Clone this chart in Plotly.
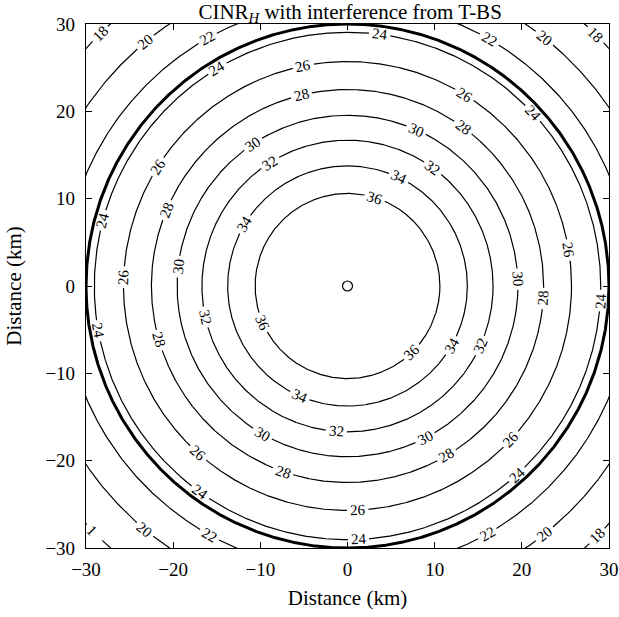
import numpy as np
import plotly.graph_objects as go

# Contour levels (dB) and their radii (km)
levels = [36, 34, 32, 30, 28, 26, 24, 22, 20, 18]
radii = [10.6, 13.75, 16.7, 19.55, 22.5, 25.7, 29.05, 32.6, 36.3, 40.5]
cell_radius = 30.0
tick_vals = [-30, -20, -10, 0, 10, 20, 30]

# contour label placement: (level, angle in degrees around the centre)
label_pos = [
    (18, 134.5), (20, 129.7), (22, 119.5), (24, 120.9), (26, 101.4), (28, 103.6),
    (30, 123.7), (32, 122.2), (26, 147.9), (28, 157.2), (34, 149.1), (24, 165.0),
    (26, 177.8), (30, 173.5),
    (24, 82.7), (22, 60.1), (20, 51.5), (18, 45.3), (26, 58.5), (24, 42.9),
    (28, 53.9), (30, 66.2), (32, 54.1), (34, 64.7), (36, 72.8), (26, 9.3), (30, 2.3),
    (32, 192.3), (36, 203.3), (24, 190.2), (28, 196.0), (34, 246.4), (32, 265.6),
    (30, 240.0), (26, 228.1), (28, 250.8), (24, 234.4), (20, 230.2), (22, 240.9),
    (28, -3.6), (24, -3.3), (36, -45.7), (34, -29.8), (32, -24.2), (30, -62.9),
    (28, -59.6), (26, -43.1), (24, -48.0), (26, -87.4), (24, -87.5), (22, -60.5),
    (20, -51.5), (18, -45.0),
]
clipped_label = (18, 224.2)   # only the "1" is visible inside the frame

PX_PER_KM = 8.72
GAP_PX = 21.0

fig = go.Figure()
th_deg = np.linspace(0, 360, 2881)
th = np.radians(th_deg)
for lev, r in zip(levels, radii):
    ang = [a % 360 for (l, a) in label_pos if l == lev]
    if lev == clipped_label[0]:
        ang.append(clipped_label[1] % 360)
    half = np.degrees(GAP_PX / 2 / (r * PX_PER_KM))
    mask = np.zeros_like(th_deg, dtype=bool)
    for a in ang:
        d = np.abs((th_deg - a + 180) % 360 - 180)
        mask |= d < half
    xs = r * np.cos(th)
    ys = r * np.sin(th)
    xs = np.where(mask, np.nan, xs)
    ys = np.where(mask, np.nan, ys)
    fig.add_trace(go.Scatter(x=xs, y=ys, mode="lines", connectgaps=False,
                             line=dict(color="black", width=1.2),
                             showlegend=False, hoverinfo="skip"))

fig.add_trace(go.Scatter(x=cell_radius * np.cos(th), y=cell_radius * np.sin(th),
                         mode="lines", line=dict(color="black", width=3),
                         showlegend=False, hoverinfo="skip"))
fig.add_trace(go.Scatter(x=[0], y=[0], mode="markers",
                         marker=dict(symbol="circle-open", size=10, color="black",
                                     line=dict(width=1.2)),
                         showlegend=False, hoverinfo="skip"))

rmap = dict(zip(levels, radii))


def text_angle(a):
    t = -(a + 90.0)
    t = (t + 180.0) % 360.0 - 180.0
    if t > 90:
        t -= 180
    elif t <= -90:
        t += 180
    return t


annotations = []
for lev, a in label_pos:
    r = rmap[lev]
    annotations.append(dict(
        x=r * np.cos(np.radians(a)), y=r * np.sin(np.radians(a)),
        xref="x", yref="y", text=str(lev), showarrow=False,
        textangle=text_angle(a), xanchor="center", yanchor="middle",
        font=dict(family="Liberation Serif", size=15, color="black")))
lev, a = clipped_label
r = rmap[lev]
annotations.append(dict(
    x=r * np.cos(np.radians(a)), y=r * np.sin(np.radians(a)),
    xref="x", yref="y", text="1", showarrow=False, xshift=-2, yshift=2,
    textangle=text_angle(a), xanchor="center", yanchor="middle",
    font=dict(family="Liberation Serif", size=15, color="black")))

axis_common = dict(range=[-30, 30], tickvals=tick_vals, ticks="inside", ticklen=6,
                   mirror="ticks", showline=True, linecolor="black", linewidth=1.2,
                   tickcolor="black", showgrid=False, zeroline=False, automargin=False,
                   tickfont=dict(family="Liberation Serif", size=19, color="black"),
                   title_font=dict(family="Liberation Serif", size=21, color="black"))

fig.update_layout(
    width=619, height=617,
    margin=dict(l=86, r=10, t=24, b=69),
    plot_bgcolor="white", paper_bgcolor="white",
    title=dict(text="CINR<sub><i>H</i></sub> with interference from T-BS",
               x=0.505, xanchor="center", xref="paper",
               y=1 - 21 / 617, yanchor="bottom", yref="container",
               pad=dict(b=2), automargin=False,
               font=dict(family="Liberation Serif", size=21, color="black")),
    xaxis=dict(axis_common, ticklabelstandoff=4,
               title=dict(text="Distance (km)", standoff=11)),
    yaxis=dict(axis_common, ticklabelstandoff=6,
               title=dict(text="Distance (km)", standoff=18)),
    annotations=annotations,
    showlegend=False,
)

fig.write_html("out.html")
